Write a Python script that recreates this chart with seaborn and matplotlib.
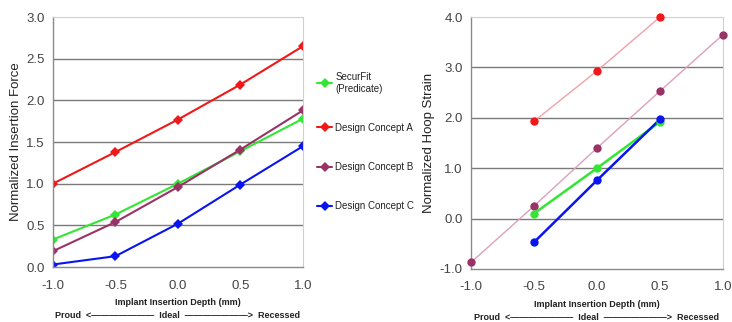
import numpy as np
import pandas as pd
import seaborn as sns
from matplotlib import pyplot as plt

sns.set_theme(style="white")
plt.rcParams["font.family"] = ["Liberation Sans", "DejaVu Sans"]

depth = [-1.0, -0.5, 0.0, 0.5, 1.0]
series = ["SecurFit\n(Predicate)", "Design Concept A", "Design Concept B", "Design Concept C"]
colors = ["#33e633", "#f01818", "#993366", "#0a14f0"]

# normalized insertion force (left)
force_securfit = [0.33, 0.63, 1.00, 1.39, 1.78]
force_a = [1.00, 1.38, 1.77, 2.19, 2.65]
force_b = [0.19, 0.54, 0.96, 1.41, 1.88]
force_c = [0.03, 0.13, 0.52, 0.99, 1.45]

# normalized hoop strain (right)
strain_depth_securfit = [-0.5, 0.0, 0.5]
strain_securfit = [0.10, 1.00, 1.92]
strain_depth_a = [-0.5, 0.0, 0.5]
strain_a = [1.93, 2.93, 4.00]
strain_depth_b = [-1.0, -0.5, 0.0, 0.5, 1.0]
strain_b = [-0.87, 0.25, 1.40, 2.53, 3.65]
strain_depth_c = [-0.5, 0.0, 0.5]
strain_c = [-0.47, 0.76, 1.97]

left = pd.DataFrame({
    "depth": depth * 4,
    "value": force_securfit + force_a + force_b + force_c,
    "series": np.repeat(series, len(depth)),
})

fig = plt.figure(figsize=(7.32, 3.22), dpi=100)
ax1 = fig.add_axes([0.0724, 0.1708, 0.3415, 0.7764])
ax2 = fig.add_axes([0.6434, 0.1646, 0.3443, 0.7826])

sns.lineplot(data=left, x="depth", y="value", hue="series", hue_order=series,
             palette=colors, marker="D", markersize=5, markeredgewidth=0,
             linewidth=1.5, ax=ax1, legend=True)

# right chart: thin trend lines for A and B, solid lines for SecurFit and C
sns.lineplot(x=strain_depth_a, y=strain_a, color="#f2a0a8", linewidth=1, ax=ax2)
sns.lineplot(x=strain_depth_b, y=strain_b, color="#dca0bc", linewidth=1, ax=ax2)
sns.lineplot(x=strain_depth_securfit, y=strain_securfit, color=colors[0], linewidth=1.8, ax=ax2)
sns.lineplot(x=strain_depth_c, y=strain_c, color=colors[3], linewidth=1.8, ax=ax2)
for xs, ys, c in [(strain_depth_a, strain_a, colors[1]),
                  (strain_depth_b, strain_b, colors[2]),
                  (strain_depth_securfit, strain_securfit, colors[0]),
                  (strain_depth_c, strain_c, colors[3])]:
    sns.scatterplot(x=xs, y=ys, color=c, s=36, linewidth=0, ax=ax2, zorder=5, clip_on=False)

def style_axes(ax, yticks, ylabel):
    ax.set_xlim(-1.0, 1.0)
    ax.set_ylim(yticks[0], yticks[-1])
    ax.set_xticks(depth)
    ax.set_xticklabels([f"{v:.1f}" for v in depth])
    ax.set_yticks(yticks)
    ax.set_yticklabels([f"{v:.1f}" for v in yticks])
    ax.tick_params(axis="both", labelsize=9.5, colors="#555555", length=4,
                   width=0.8, direction="out", pad=2)
    ax.tick_params(axis="x", pad=5)
    ax.tick_params(axis="both", labelcolor="#444444")
    for v in yticks[1:-1]:
        ax.axhline(v, color="#7a7a7a", linewidth=1, zorder=0)
    for side in ["left", "bottom"]:
        ax.spines[side].set_color("#8a8a8a")
        ax.spines[side].set_linewidth(1)
    for side in ["top", "right"]:
        ax.spines[side].set_color("#d0d0d0")
        ax.spines[side].set_linewidth(0.8)
    ax.set_ylabel(ylabel, fontsize=9.5, color="#222222", labelpad=3)
    ax.set_xlabel("Implant Insertion Depth (mm)", fontsize=6.5, fontweight="bold",
                  color="#222222", labelpad=5)
    ax.text(0.5, -0.193, "Proud  <\u2014\u2014\u2014\u2014\u2014\u2014\u2014  Ideal  \u2014\u2014\u2014\u2014\u2014\u2014\u2014>  Recessed",
            transform=ax.transAxes, ha="center", va="center", fontsize=6.5,
            fontweight="bold", color="#222222")

style_axes(ax1, [0.0, 0.5, 1.0, 1.5, 2.0, 2.5, 3.0], "Normalized Insertion Force")
style_axes(ax2, [-1.0, 0.0, 1.0, 2.0, 3.0, 4.0], "Normalized Hoop Strain")

leg = ax1.legend(loc="upper left", bbox_to_anchor=(1.02, 0.815), frameon=False,
                 fontsize=7, handlelength=1.6, handletextpad=0.3, labelspacing=3.0)
for t in leg.get_texts():
    t.set_color("#222222")

fig.savefig("out.png", dpi=100)
